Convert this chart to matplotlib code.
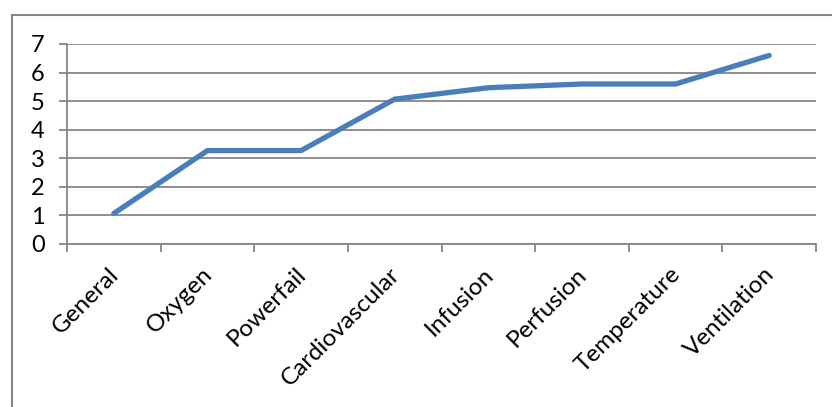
import matplotlib.pyplot as plt
from matplotlib.lines import Line2D
import matplotlib.transforms as mtransforms

categories = ['General', 'Oxygen', 'Powerfail', 'Cardiovascular', 'Infusion',
              'Perfusion', 'Temperature', 'Ventilation']
values = [1.07, 3.27, 3.27, 5.07, 5.47, 5.6, 5.6, 6.6]

plt.rcParams['font.family'] = ['Lato', 'DejaVu Sans']
grid_col = '#868686'

fig = plt.figure(figsize=(8.32, 4.07), dpi=100)
ax = fig.add_axes([67 / 832, 1 - 244 / 407, (816 - 67) / 832, 200 / 407])

x = [i + 0.5 for i in range(len(categories))]
ax.plot(x, values, color='#4a7ebb', linewidth=3.8, solid_capstyle='round')

ax.set_xlim(0, len(categories))
ax.set_ylim(0, 7)
ax.set_yticks(range(8))
ax.set_yticklabels([str(v) for v in range(8)], fontsize=17)
ax.yaxis.grid(True, color=grid_col, linewidth=1.3)
ax.set_axisbelow(True)

ax.set_xticks(range(len(categories) + 1))
ax.set_xticklabels([])
ax.set_xticks(x, minor=True)
ax.set_xticklabels(categories, minor=True, rotation=45, ha='right',
                   rotation_mode='anchor', fontsize=17.5)
ax.tick_params(axis='x', which='minor', length=0, pad=14)
ax.tick_params(axis='x', which='major', length=6, color=grid_col, width=1.3)
ax.tick_params(axis='y', length=6, color=grid_col, width=1.3, pad=10)

offset = mtransforms.ScaledTranslation(-6 / 100, 0, fig.dpi_scale_trans)
for lab in ax.get_xticklabels(minor=True):
    lab.set_transform(lab.get_transform() + offset)

for side in ['top', 'right']:
    ax.spines[side].set_visible(False)
for side in ['left', 'bottom']:
    ax.spines[side].set_color(grid_col)
    ax.spines[side].set_linewidth(1.3)

# outer chart frame (top and left edges visible)
fig.add_artist(Line2D([12 / 832, 1.0], [1 - 15 / 407] * 2, color=grid_col, linewidth=1.5))
fig.add_artist(Line2D([12 / 832] * 2, [0, 1 - 15 / 407], color=grid_col, linewidth=1.5))

fig.savefig('out.png', dpi=100)
